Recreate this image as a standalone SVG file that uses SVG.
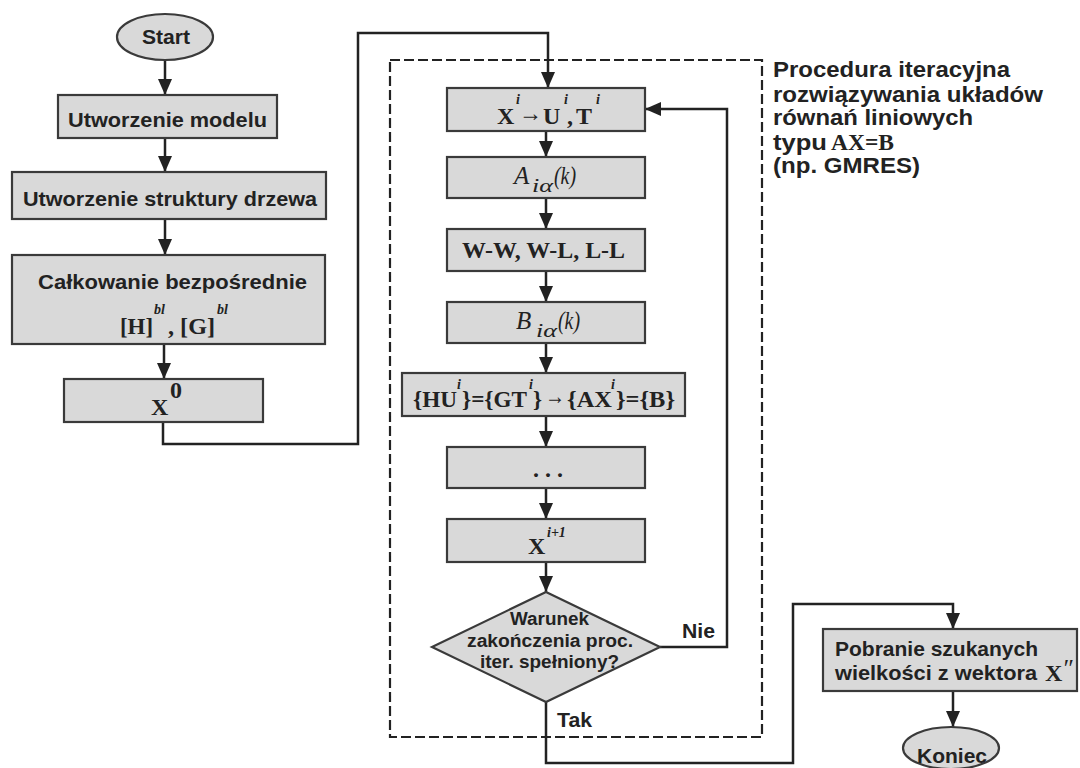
<svg xmlns="http://www.w3.org/2000/svg" width="1080" height="768" viewBox="0 0 1080 768">
<defs>
<style>
.box{fill:#d9d9d9;stroke:#3a3a3a;stroke-width:2.2}
.ln{fill:none;stroke:#222;stroke-width:2.5}
.dash{fill:none;stroke:#222;stroke-width:2.2;stroke-dasharray:10 4}
.s{font-family:"Liberation Sans",Arial,sans-serif;font-weight:bold;font-size:21px;fill:#222}
.sm{font-family:"Liberation Sans",Arial,sans-serif;font-weight:bold;font-size:18px;fill:#222}
.t{font-family:"Liberation Sans",Arial,sans-serif;font-weight:bold;font-size:22px;fill:#222}
.m{font-family:"Liberation Serif","Times New Roman","DejaVu Serif",serif;font-weight:bold;font-size:24px;fill:#222}
.mi{font-family:"Liberation Serif","Times New Roman","DejaVu Serif",serif;font-style:italic;font-size:25px;fill:#222}
.sup{font-family:"Liberation Serif","Times New Roman",serif;font-style:italic;font-weight:bold;font-size:14px;fill:#222}
.sub{font-family:"Liberation Serif","Times New Roman",serif;font-style:italic;font-size:18px;fill:#222}
</style>
<marker id="ah" viewBox="0 0 16 14" refX="16" refY="7" markerWidth="16" markerHeight="14" markerUnits="userSpaceOnUse" orient="auto">
<path d="M0,0 L16,7 L0,14 z" fill="#222"/>
</marker>
</defs>
<rect width="1080" height="768" fill="#ffffff"/>

<g id="iteration-frame">
<rect class="dash" x="390" y="60" width="372" height="677"/>
</g>

<g id="connectors">
<line class="ln" x1="165" y1="60" x2="165" y2="95" marker-end="url(#ah)"/>
<line class="ln" x1="165" y1="138" x2="165" y2="172" marker-end="url(#ah)"/>
<line class="ln" x1="165" y1="219" x2="165" y2="255" marker-end="url(#ah)"/>
<line class="ln" x1="164" y1="344" x2="164" y2="379" marker-end="url(#ah)"/>
<polyline class="ln" points="163,422 163,444 358,444 358,33 548,33 548,88" marker-end="url(#ah)"/>
<line class="ln" x1="546" y1="131" x2="546" y2="157" marker-end="url(#ah)"/>
<line class="ln" x1="546" y1="198" x2="546" y2="229" marker-end="url(#ah)"/>
<line class="ln" x1="546" y1="271" x2="546" y2="302" marker-end="url(#ah)"/>
<line class="ln" x1="546" y1="343" x2="546" y2="373" marker-end="url(#ah)"/>
<line class="ln" x1="546" y1="416" x2="546" y2="447" marker-end="url(#ah)"/>
<line class="ln" x1="546" y1="488" x2="546" y2="519" marker-end="url(#ah)"/>
<line class="ln" x1="546" y1="562" x2="546" y2="592" marker-end="url(#ah)"/>
<polyline class="ln" points="660,647 727,647 727,109 645,109" marker-end="url(#ah)"/>
<polyline class="ln" points="546,702 546,763 793,763 793,604 953,604 953,629" marker-end="url(#ah)"/>
<line class="ln" x1="953" y1="691" x2="953" y2="727" marker-end="url(#ah)"/>
</g>

<g id="start">
<ellipse class="box" cx="165" cy="37" rx="48" ry="23"/>
<text class="s" x="142" y="44" textLength="48" lengthAdjust="spacingAndGlyphs">Start</text>
</g>

<g id="utworzenie-modelu">
<rect class="box" x="58" y="95" width="219" height="43"/>
<text class="s" x="68" y="127" textLength="199" lengthAdjust="spacingAndGlyphs">Utworzenie modelu</text>
</g>

<g id="utworzenie-struktury">
<rect class="box" x="12" y="172" width="314" height="47"/>
<text class="s" x="23" y="206" textLength="294" lengthAdjust="spacingAndGlyphs">Utworzenie struktury drzewa</text>
</g>

<g id="calkowanie">
<rect class="box" x="12" y="255" width="313" height="89"/>
<text class="s" x="38" y="289" textLength="269" lengthAdjust="spacingAndGlyphs">Całkowanie bezpośrednie</text>
<text class="m" x="120" y="334" textLength="33" lengthAdjust="spacingAndGlyphs">[H]</text>
<text class="sup" x="154" y="314" font-size="15">bl</text>
<text class="m" x="168" y="334" textLength="47" lengthAdjust="spacingAndGlyphs">, [G]</text>
<text class="sup" x="217" y="314" font-size="15">bl</text>
</g>

<g id="x0">
<rect class="box" x="64" y="379" width="199" height="43"/>
<text class="m" x="151" y="415">X</text>
<text class="m" x="170" y="398" font-size="13">0</text>
</g>

<g id="xi-ui-ti">
<rect class="box" x="447" y="88" width="198" height="43"/>
<text class="m" x="497" y="124">X</text>
<text class="sup" x="516" y="104">i</text>
<text class="m" x="519" y="121" font-size="24" textLength="23" lengthAdjust="spacingAndGlyphs">→</text>
<text class="m" x="543" y="124">U</text>
<text class="sup" x="564" y="104">i</text>
<text class="m" x="567" y="124">,</text>
<text class="m" x="576" y="124">T</text>
<text class="sup" x="596" y="104">i</text>
</g>

<g id="a-ialpha">
<rect class="box" x="447" y="157" width="198" height="41"/>
<text class="mi" x="514" y="184">A</text>
<text class="sub" x="532" y="192" textLength="21" lengthAdjust="spacingAndGlyphs">iα</text>
<text class="mi" x="554" y="184" textLength="22" lengthAdjust="spacingAndGlyphs">(k)</text>
</g>

<g id="ww-wl-ll">
<rect class="box" x="447" y="229" width="198" height="42"/>
<text class="m" x="462" y="258" font-size="23" textLength="163" lengthAdjust="spacingAndGlyphs">W-W, W-L, L-L</text>
</g>

<g id="b-ialpha">
<rect class="box" x="447" y="302" width="198" height="41"/>
<text class="mi" x="516" y="329">B</text>
<text class="sub" x="536" y="337" textLength="21" lengthAdjust="spacingAndGlyphs">iα</text>
<text class="mi" x="558" y="329" textLength="22" lengthAdjust="spacingAndGlyphs">(k)</text>
</g>

<g id="hu-gt-ax-b">
<rect class="box" x="402" y="373" width="283" height="43"/>
<text class="m" x="413" y="407" font-size="23" textLength="44" lengthAdjust="spacingAndGlyphs">{HU</text>
<text class="sup" x="457" y="389">i</text>
<text class="m" x="462" y="407" font-size="23" textLength="65" lengthAdjust="spacingAndGlyphs">}={GT</text>
<text class="sup" x="529" y="389">i</text>
<text class="m" x="533" y="407" font-size="23" textLength="9" lengthAdjust="spacingAndGlyphs">}</text>
<text class="m" x="545" y="404" font-size="20" textLength="20" lengthAdjust="spacingAndGlyphs">→</text>
<text class="m" x="567" y="407" font-size="23" textLength="45" lengthAdjust="spacingAndGlyphs">{AX</text>
<text class="sup" x="611" y="389">i</text>
<text class="m" x="616" y="407" font-size="23" textLength="59" lengthAdjust="spacingAndGlyphs">}={B}</text>
</g>

<g id="dots">
<rect class="box" x="447" y="447" width="198" height="41"/>
<text class="m" x="533" y="477" font-size="22" textLength="30" lengthAdjust="spacingAndGlyphs">. . .</text>
</g>

<g id="x-i-plus-1">
<rect class="box" x="447" y="519" width="198" height="43"/>
<text class="m" x="528" y="554">X</text>
<text class="sup" x="547" y="537" font-size="16" font-weight="normal">i+1</text>
</g>

<g id="warunek">
<polygon class="box" points="546,592 660,647 546,702 432,647"/>
<text class="sm" x="510" y="625" textLength="79" lengthAdjust="spacingAndGlyphs">Warunek</text>
<text class="sm" x="467" y="647" textLength="166" lengthAdjust="spacingAndGlyphs">zakończenia proc.</text>
<text class="sm" x="480" y="668" textLength="139" lengthAdjust="spacingAndGlyphs">iter. spełniony?</text>
</g>

<g id="labels">
<text class="s" x="682" y="638" textLength="33" lengthAdjust="spacingAndGlyphs">Nie</text>
<text class="s" x="557" y="727" textLength="35" lengthAdjust="spacingAndGlyphs">Tak</text>
</g>

<g id="title">
<text class="t" x="773" y="77" textLength="237" lengthAdjust="spacingAndGlyphs">Procedura iteracyjna</text>
<text class="t" x="773" y="102" textLength="270" lengthAdjust="spacingAndGlyphs">rozwiązywania układów</text>
<text class="t" x="773" y="125" textLength="200" lengthAdjust="spacingAndGlyphs">równań liniowych</text>
<text class="t" x="773" y="150" textLength="54" lengthAdjust="spacingAndGlyphs">typu</text>
<text class="m" x="831" y="150" font-size="22" textLength="63" lengthAdjust="spacingAndGlyphs">AX=B</text>
<text class="t" x="773" y="173" textLength="147" lengthAdjust="spacingAndGlyphs">(np. GMRES)</text>
</g>

<g id="pobranie">
<rect class="box" x="823" y="629" width="254" height="62"/>
<text class="s" x="835" y="656" textLength="203" lengthAdjust="spacingAndGlyphs">Pobranie szukanych</text>
<text class="s" x="835" y="680" textLength="202" lengthAdjust="spacingAndGlyphs">wielkości z wektora</text>
<text class="m" x="1045" y="681" font-weight="normal" font-size="26">X</text>
<text class="mi" x="1062" y="677" font-size="22">″</text>
</g>

<g id="koniec">
<ellipse class="box" cx="951" cy="748" rx="48" ry="21"/>
<text class="s" x="917" y="763" textLength="70" lengthAdjust="spacingAndGlyphs">Koniec</text>
</g>
</svg>
